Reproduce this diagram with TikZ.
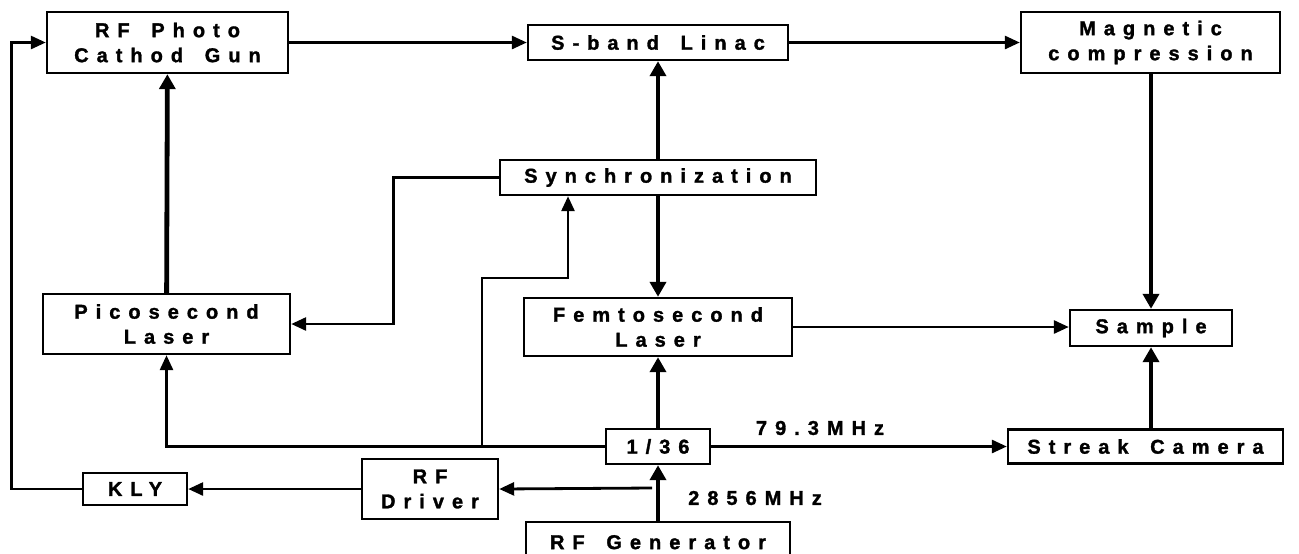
\documentclass[tikz,border=0pt]{standalone}
\usepackage{fontspec}
\setmainfont{Liberation Sans}
\newfontfamily\wide[LetterSpace=40,WordSpace=1.6,FakeBold=1.5]{Liberation Sans Bold}
\usetikzlibrary{arrows.meta,calc}
\tikzset{
  every node/.style={font=\wide\fontsize{10}{12.5}\selectfont},
  blk/.style={draw, line width=1.2pt, fill=white, align=center, inner sep=0pt, minimum width=#1},
  flow/.style={-{Triangle[length=7.5pt,width=6.5pt]}, line width=1.4pt},
  flowb/.style={-{Triangle[length=7.5pt,width=8pt]}, line width=2.4pt},
  lbl/.style={inner sep=0pt},
}
\begin{document}
\begin{tikzpicture}[x=0.5pt,y=-0.5pt]
\useasboundingbox (0,0) rectangle (1299,553);
% top row
\node[blk=120.5pt, minimum height=30.5pt] (gun) at (167.5,42.5) {RF Photo\\Cathod Gun};
\node[blk=130pt, minimum height=17.5pt] (linac) at (658,42.5) {S-band Linac};
\node[blk=129.5pt, minimum height=30.5pt] (mag) at (1150.5,42.5) {Magnetic\\compression};
% middle
\node[blk=158pt, minimum height=17.5pt] (sync) at (658,177.5) {Synchronization};
\node[blk=123.5pt, minimum height=30pt] (pico) at (166.5,324) {Picosecond\\Laser};
\node[blk=134pt, minimum height=29pt] (femto) at (658,327) {Femtosecond\\Laser};
\node[blk=81pt, minimum height=18pt] (sample) at (1151,328) {Sample};
% bottom
\node[blk=52pt, minimum height=17.5pt] (div) at (658,446.5) {1/36};
\node[blk=137.5pt, minimum height=17pt] (streak) at (1145.5,446.5) {Streak Camera};
\node[blk=52pt, minimum height=16pt] (kly) at (135,489) {KLY};
\node[blk=68pt, minimum height=30pt] (drv) at (430,489) {RF\\Driver};
\node[blk=132pt, minimum height=20pt, anchor=north] (gen) at (658,521) {RF Generator};
\node[lbl] (f1) at (820,428) {79.3MHz};
\node[lbl] (f2) at (755,498) {2856MHz};
% connectors
\draw[flow] (gun) -- (linac);
\draw[flow] (linac) -- (mag);
\draw[flowb] (pico) -- (gun);
\draw[flowb] (sync) -- (linac);
\draw[flowb] (sync) -- (femto);
\draw[flowb] (mag.south-|sample.north) -- (sample.north);
\draw[flowb] (sample.south|-streak.north) -- (sample.south);
\draw[flowb] (div) -- (femto);
\draw[flowb] (gen) -- (div);
\draw[flow] (femto.east) -- (femto.east-|sample.west);
\draw[flow] (div) -- (streak);
\draw[flow] (sync.west) -- ++(-105,0) |- (pico.east);
\draw[flow] (div.west) -| (pico.south);
\coordinate (br) at (482,446.5);
\draw[flow] (br) |- (568,278) -- ($(sync.south)+(-90,0)$);
\coordinate (tap) at (652,488);
\draw[flow] (tap) -- (drv.east);
\draw[flow] (drv) -- (kly);
\draw[flow] (kly.west) -- ++(-70,0) |- (gun.west);
\end{tikzpicture}
\end{document}
